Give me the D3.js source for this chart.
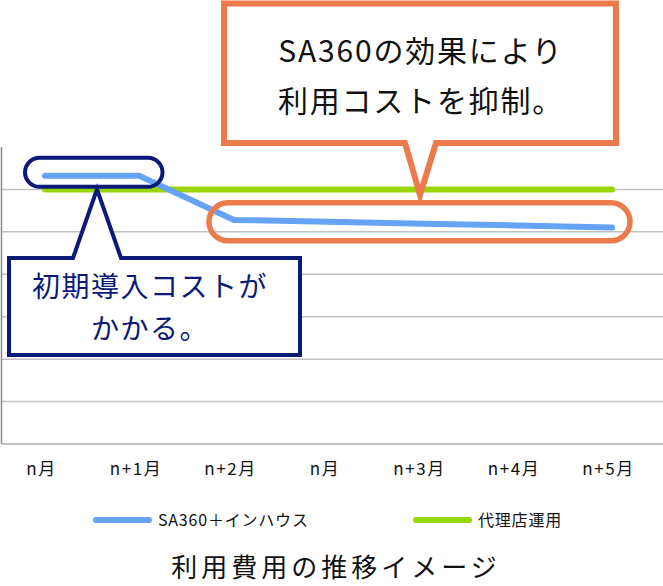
<!DOCTYPE html>
<html>
<head>
<meta charset="utf-8">
<script src="https://cdn.jsdelivr.net/npm/d3@7"></script>
<style>
  body { margin: 0; background: #fff; }
  svg { display: block; }
  text { font-family: "Noto Sans CJK JP", "Noto Sans", sans-serif; }
</style>
</head>
<body>
<div id="chart"></div>
<script>
const W = 663, H = 586;

// data
const months = ["n月", "n+1月", "n+2月", "n月", "n+3月", "n+4月", "n+5月"];
const sa360 = [6.32, 6.32, 5.28, 5.24, 5.19, 5.15, 5.10];
const agency = [6, 6, 6, 6, 6, 6, 6];
const seriesNames = ["SA360＋インハウス", "代理店運用"];
const yTicks = [1, 2, 3, 4, 5, 6];
const title = "利用費用の推移イメージ";
const noteTop = ["SA360の効果により", "利用コストを抑制。"];
const noteLeft = ["初期導入コストが", "かかる。"];

const col = {
  blue: "#66a3f6",
  green: "#99d500",
  grid: "#c2c2c2",
  axis: "#8a8a8a",
  navy: "#0b1a78",
  orange: "#ec7a4a",
  text: "#111"
};

const svg = d3.select("#chart").append("svg")
  .attr("width", W).attr("height", H);

const idx = d3.range(months.length);
const x = d3.scalePoint().domain(idx).range([45, 612]);
const y = d3.scaleLinear().domain([0, 7]).range([444, 147]);

// grid
svg.append("g").selectAll("line").data(yTicks).join("line")
  .attr("x1", 2).attr("x2", W)
  .attr("y1", d => y(d)).attr("y2", d => y(d))
  .attr("stroke", col.grid).attr("stroke-width", 1.5);

// baseline + left axis
svg.append("line").attr("x1", 2).attr("x2", W)
  .attr("y1", y(0)).attr("y2", y(0))
  .attr("stroke", col.grid).attr("stroke-width", 2);
svg.append("line").attr("x1", 1.5).attr("x2", 1.5)
  .attr("y1", y(7)).attr("y2", y(0))
  .attr("stroke", col.axis).attr("stroke-width", 1.5);

// x labels
const xAxis = d3.axisBottom(x).tickSize(0).tickFormat(i => months[i]);
const gx = svg.append("g").attr("transform", `translate(-4,${y(0)})`).call(xAxis);
gx.select(".domain").remove();
gx.selectAll("text")
  .attr("y", 31).attr("dy", 0)
  .attr("font-size", 17).attr("letter-spacing", 1.6)
  .attr("fill", col.text)
  .style("font-family", '"Noto Sans CJK JP", sans-serif');

// lines
const line = d3.line().x((d, i) => x(i)).y(d => y(d));
svg.append("path").datum(agency).attr("d", line)
  .attr("fill", "none").attr("stroke", col.green)
  .attr("stroke-width", 6).attr("stroke-linecap", "round");
svg.append("path").datum(sa360).attr("d", line)
  .attr("fill", "none").attr("stroke", col.blue)
  .attr("stroke-width", 6).attr("stroke-linecap", "round")
  .attr("stroke-linejoin", "round");

// callout: orange pill around n+2..n+5
const op = { x0: x(2) - 25, x1: x(6) + 18, yc: y(sa360[4]) - 2 };
svg.append("rect")
  .attr("x", op.x0).attr("y", op.yc - 19)
  .attr("width", op.x1 - op.x0).attr("height", 38)
  .attr("rx", 19)
  .attr("fill", "none").attr("stroke", col.orange).attr("stroke-width", 5.5);

// callout: navy pill around n..n+1
const np = { x0: x(0) - 20, x1: x(1) + 23, yc: y(sa360[0]) - 3.5 };
svg.append("rect")
  .attr("x", np.x0).attr("y", np.yc - 14.5)
  .attr("width", np.x1 - np.x0).attr("height", 29)
  .attr("rx", 14.5)
  .attr("fill", "none").attr("stroke", col.navy).attr("stroke-width", 4);

// speech box: rect with a pointer on its top or bottom edge
function bubble(b, tip, base, side, stroke, sw) {
  const p = d3.path();
  if (side === "top") {
    p.moveTo(b.x0, b.y0);
    p.lineTo(base[0], b.y0);
    p.lineTo(tip[0], tip[1]);
    p.lineTo(base[1], b.y0);
    p.lineTo(b.x1, b.y0);
    p.lineTo(b.x1, b.y1);
    p.lineTo(b.x0, b.y1);
  } else {
    p.moveTo(b.x0, b.y0);
    p.lineTo(b.x1, b.y0);
    p.lineTo(b.x1, b.y1);
    p.lineTo(base[1], b.y1);
    p.lineTo(tip[0], tip[1]);
    p.lineTo(base[0], b.y1);
    p.lineTo(b.x0, b.y1);
  }
  p.closePath();
  svg.append("path").attr("d", p.toString())
    .attr("fill", "#fff").attr("stroke", stroke)
    .attr("stroke-width", sw).attr("stroke-linejoin", "miter");
}

// orange bubble
const ob = { x0: 224, y0: 3.5, x1: 616, y1: 143 };
bubble(ob, [420, 195], [405, 436], "bottom", col.orange, 6);
noteTop.forEach((t, i) => {
  svg.append("text").text(t)
    .attr("x", (ob.x0 + ob.x1) / 2 + 1).attr("y", 62 + i * 50)
    .attr("text-anchor", "middle")
    .attr("font-size", 30).attr("letter-spacing", 1.8)
    .attr("fill", col.text);
});

// navy bubble
const nb = { x0: 9, y0: 258, x1: 300, y1: 355 };
bubble(nb, [x(0) + 52, y(6)], [73, 121], "top", col.navy, 4);
noteLeft.forEach((t, i) => {
  svg.append("text").text(t)
    .attr("x", 150).attr("y", 297 + i * 42)
    .attr("text-anchor", "middle")
    .attr("font-size", 28).attr("letter-spacing", 1.5)
    .attr("fill", col.navy);
});

// legend
const legend = [
  { name: seriesNames[0], color: col.blue, x: 93 },
  { name: seriesNames[1], color: col.green, x: 413 }
];
const lg = svg.append("g").selectAll("g").data(legend).join("g")
  .attr("transform", d => `translate(${d.x},520)`);
lg.append("line").attr("x1", 3).attr("x2", 56)
  .attr("stroke", d => d.color).attr("stroke-width", 6)
  .attr("stroke-linecap", "round");
lg.append("text").text(d => d.name)
  .attr("x", 65).attr("y", 6)
  .attr("font-size", 16).attr("letter-spacing", 0.8)
  .attr("fill", col.text);

// title
svg.append("text").text(title)
  .attr("x", 336).attr("y", 577)
  .attr("text-anchor", "middle")
  .attr("font-size", 26).attr("letter-spacing", 4)
  .attr("fill", col.text);
</script>
</body>
</html>
